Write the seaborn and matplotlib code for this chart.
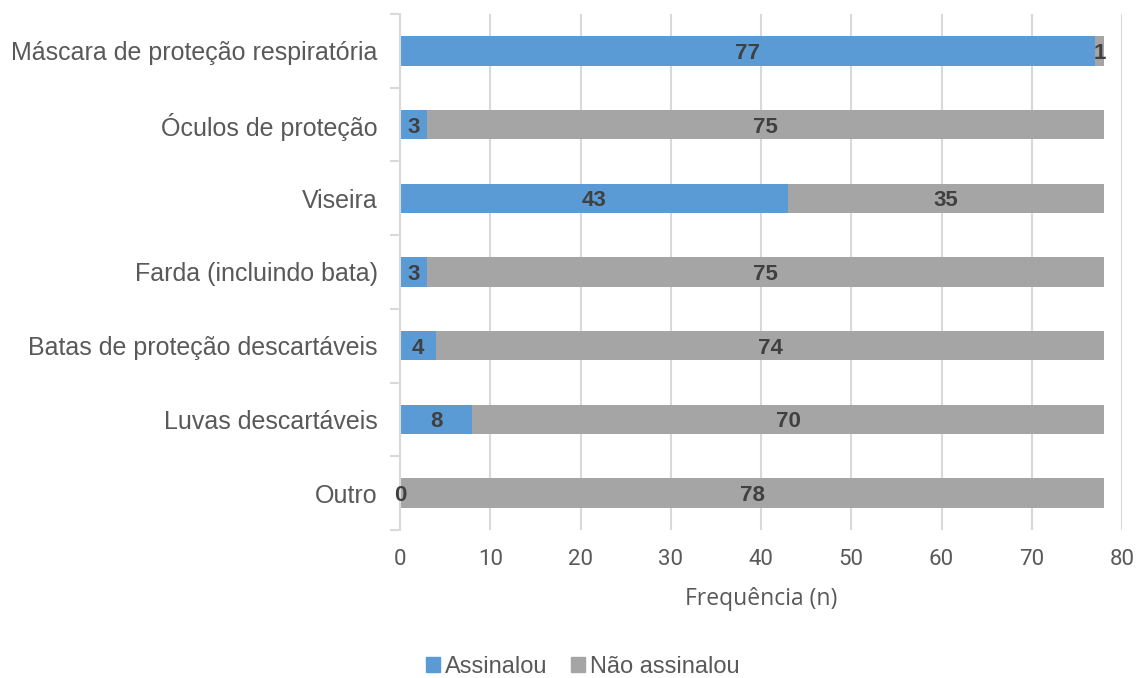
import matplotlib
matplotlib.use("Agg")
import matplotlib.pyplot as plt
import seaborn as sns
import numpy as np
import pandas as pd
from matplotlib.patches import Patch

categories = ["Máscara de proteção respiratória", "Óculos de proteção", "Viseira",
              "Farda (incluindo bata)", "Batas de proteção descartáveis",
              "Luvas descartáveis", "Outro"]
assinalou = [77, 3, 43, 3, 4, 8, 0]
nao_assinalou = [1, 75, 35, 75, 74, 70, 78]
x_ticks = [0, 10, 20, 30, 40, 50, 60, 70, 80]
series_names = ["Assinalou", "Não assinalou"]

BLUE = "#5B9BD5"
GRAY = "#A5A5A5"
GRID = "#D9D9D9"
TXT = "#595959"

sns.set_theme(style="white")
plt.rcParams['font.family'] = ['Liberation Sans', 'DejaVu Sans']

df = pd.DataFrame({"cat": categories, "a": assinalou, "n": nao_assinalou})
df["total"] = df["a"] + df["n"]

fig = plt.figure(figsize=(11.37, 6.78), dpi=100)
ax = fig.add_axes([400/1137, 1-530/678, 722/1137, 516/678])

sns.barplot(data=df, x="total", y="cat", color=GRAY, width=0.4, saturation=1, ax=ax,
            zorder=2, linewidth=0)
sns.barplot(data=df, x="a", y="cat", color=BLUE, width=0.4, saturation=1, ax=ax,
            zorder=3, linewidth=0)

for i, (a, n) in enumerate(zip(assinalou, nao_assinalou)):
    ax.text(a/2, i, str(a), ha="center", va="center_baseline", fontsize=16, fontweight="bold",
            color="#404040", zorder=5)
    ax.text(a + n/2, i, str(n), ha="center", va="center_baseline", fontsize=16, fontweight="bold",
            color="#404040", zorder=5)

ax.set_xlim(0, 80)
ax.set_ylim(len(categories)-0.5, -0.5)
ax.set_xticks(x_ticks)
ax.set_xticklabels([str(t) for t in x_ticks], family="Roboto", fontweight="normal",
                   fontsize=16, color=TXT)
ax.tick_params(axis="x", length=0, pad=14)
ax.set_yticks(range(len(categories)))
ax.set_yticklabels(categories, fontsize=18, color=TXT)
ax.tick_params(axis="y", which="major", length=0, pad=16)
ax.set_yticks(np.arange(-0.5, len(categories), 1), minor=True)
ax.tick_params(axis="y", which="minor", length=7, width=1.5, color=GRID, left=True)

ax.xaxis.grid(True, color=GRID, linewidth=1.5, zorder=0)
ax.set_axisbelow(True)
for s in ["top", "right", "bottom"]:
    ax.spines[s].set_visible(False)
ax.spines["left"].set_color(GRID)
ax.spines["left"].set_linewidth(1.5)
ax.spines["left"].set_zorder(4)

ax.set_ylabel("")
ax.set_xlabel("Frequência (n)", family="Open Sans", fontsize=16.5, color=TXT, labelpad=12)

handles = [Patch(color=BLUE), Patch(color=GRAY)]
fig.legend(handles, series_names, loc="center", bbox_to_anchor=(583/1137, 1-667/678),
           ncol=2, frameon=False, fontsize=17, handlelength=0.6, handleheight=0.6,
           handletextpad=0.2, columnspacing=1.0, labelcolor=TXT)

fig.savefig("out.png", dpi=100)
